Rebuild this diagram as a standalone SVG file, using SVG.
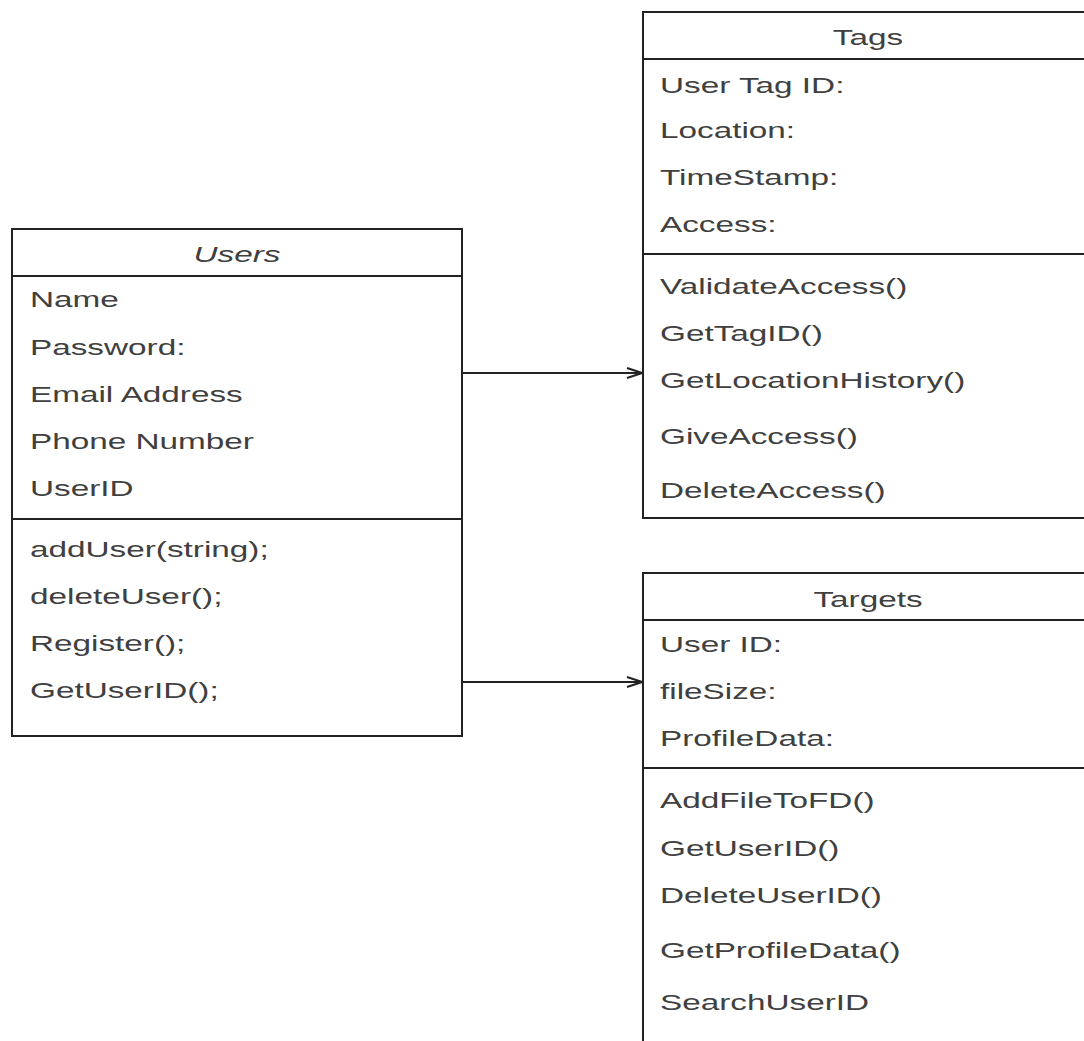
<svg xmlns="http://www.w3.org/2000/svg" width="1084" height="1041" viewBox="0 0 1084 1041">
<defs>
<style>
.box{fill:#fff;stroke:#222;stroke-width:2}
.sep{stroke:#222;stroke-width:2}
.t{font-family:"Liberation Sans",Arial,sans-serif;font-size:22.5px;fill:#404040}
.h{text-anchor:middle}
.i{font-style:italic}
.conn{stroke:#222;stroke-width:2;fill:none}
</style>
<marker id="open" markerWidth="20" markerHeight="20" refX="18" refY="8" orient="auto" markerUnits="userSpaceOnUse">
<path d="M3,3 L18,8 L3,13" fill="none" stroke="#222" stroke-width="2"/>
</marker>
</defs>
<rect width="1084" height="1041" fill="#fff"/>
<g id="users">
<rect class="box" x="12" y="229" width="450" height="507"/>
<line class="sep" x1="12" y1="276" x2="462" y2="276"/>
<line class="sep" x1="12" y1="519" x2="462" y2="519"/>
<text class="t h i" transform="translate(237,262) scale(1.48,1)">Users</text>
<text class="t" transform="translate(30,307) scale(1.48,1)">Name</text>
<text class="t" transform="translate(30,355) scale(1.48,1)">Password:</text>
<text class="t" transform="translate(30,402) scale(1.48,1)">Email Address</text>
<text class="t" transform="translate(30,449) scale(1.48,1)">Phone Number</text>
<text class="t" transform="translate(30,496) scale(1.48,1)">UserID</text>
<text class="t" transform="translate(30,557) scale(1.48,1)">addUser(string);</text>
<text class="t" transform="translate(30,604) scale(1.48,1)">deleteUser();</text>
<text class="t" transform="translate(30,651) scale(1.48,1)">Register();</text>
<text class="t" transform="translate(30,698) scale(1.48,1)">GetUserID();</text>
</g>
<g id="tags">
<rect class="box" x="643" y="12" width="460" height="506"/>
<line class="sep" x1="643" y1="59" x2="1090" y2="59"/>
<line class="sep" x1="643" y1="254" x2="1090" y2="254"/>
<text class="t h" transform="translate(868,45) scale(1.48,1)">Tags</text>
<text class="t" transform="translate(660,93) scale(1.48,1)">User Tag ID:</text>
<text class="t" transform="translate(660,138) scale(1.48,1)">Location:</text>
<text class="t" transform="translate(660,185) scale(1.48,1)">TimeStamp:</text>
<text class="t" transform="translate(660,232) scale(1.48,1)">Access:</text>
<text class="t" transform="translate(660,294) scale(1.48,1)">ValidateAccess()</text>
<text class="t" transform="translate(660,341) scale(1.48,1)">GetTagID()</text>
<text class="t" transform="translate(660,388) scale(1.48,1)">GetLocationHistory()</text>
<text class="t" transform="translate(660,444) scale(1.48,1)">GiveAccess()</text>
<text class="t" transform="translate(660,498) scale(1.48,1)">DeleteAccess()</text>
</g>
<g id="targets">
<rect class="box" x="643" y="573" width="460" height="500"/>
<line class="sep" x1="643" y1="620" x2="1090" y2="620"/>
<line class="sep" x1="643" y1="768" x2="1090" y2="768"/>
<text class="t h" transform="translate(868,607) scale(1.48,1)">Targets</text>
<text class="t" transform="translate(660,652) scale(1.48,1)">User ID:</text>
<text class="t" transform="translate(660,699) scale(1.48,1)">fileSize:</text>
<text class="t" transform="translate(660,746) scale(1.48,1)">ProfileData:</text>
<text class="t" transform="translate(660,808) scale(1.48,1)">AddFileToFD()</text>
<text class="t" transform="translate(660,856) scale(1.48,1)">GetUserID()</text>
<text class="t" transform="translate(660,903) scale(1.48,1)">DeleteUserID()</text>
<text class="t" transform="translate(660,958) scale(1.48,1)">GetProfileData()</text>
<text class="t" transform="translate(660,1010) scale(1.48,1)">SearchUserID</text>
</g>
<g id="connectors">
<line class="conn" x1="462" y1="373" x2="642" y2="373" marker-end="url(#open)"/>
<line class="conn" x1="462" y1="682" x2="642" y2="682" marker-end="url(#open)"/>
</g>
</svg>
